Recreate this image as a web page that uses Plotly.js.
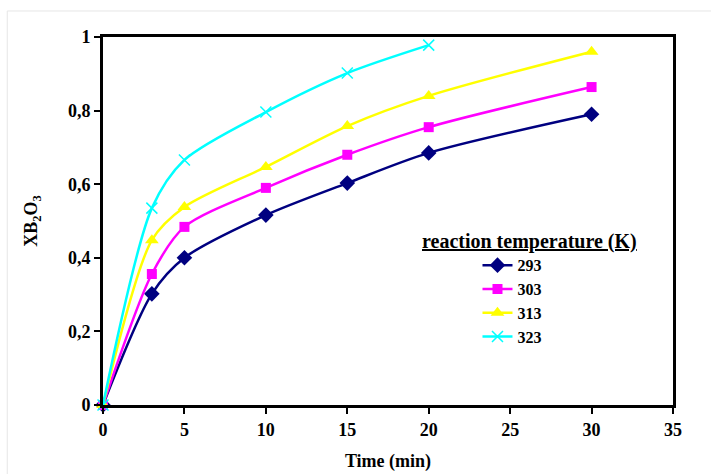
<!DOCTYPE html>
<html><head><meta charset="utf-8">
<script src="https://cdn.plot.ly/plotly-3.0.1.min.js"></script>
<style>body{margin:0;background:#fff}#c{width:711px;height:474px}</style>
</head><body><div id="c"></div>
<script>
const time = [0, 3, 5, 10, 15, 20, 30];
const time323 = [0, 3, 5, 10, 15, 20];
const s293 = [0, 0.302, 0.400, 0.516, 0.603, 0.685, 0.790];
const s303 = [0, 0.356, 0.484, 0.590, 0.680, 0.755, 0.864];
const s313 = [0, 0.448, 0.538, 0.647, 0.758, 0.840, 0.960];
const s323 = [0, 0.535, 0.666, 0.796, 0.902, 0.978];
const names = ['293', '303', '313', '323'];
const xTicks = [0, 5, 10, 15, 20, 25, 30, 35];
const yTicks = [0, 0.2, 0.4, 0.6, 0.8, 1];
const yTickText = ['0', '0,2', '0,4', '0,6', '0,8', '1'];

const fam = 'Liberation Serif';
function tr(x, y, name, color, symbol, msize) {
  return {x: x, y: y, name: name, type: 'scatter', mode: 'lines+markers',
    line: {color: color, width: 2.5, shape: 'spline', smoothing: 0.8},
    marker: {color: color, symbol: symbol, size: msize, line: {color: color, width: symbol === 'x-thin' ? 1.5 : 0}},
    cliponaxis: false};
}
const data = [
  tr(time, s293, names[0], '#000080', 'diamond', 12),
  tr(time, s303, names[1], '#FF00FF', 'square', 10),
  tr(time, s313, names[2], '#FFFF00', 'triangle-up', 12),
  tr(time323, s323, names[3], '#00FFFF', 'x-thin', 11)
];
const layout = {
  width: 711, height: 474,
  margin: {l: 103, r: 38, t: 37, b: 69},
  paper_bgcolor: '#fff', plot_bgcolor: '#fff',
  font: {family: fam, size: 18, color: '#000'},
  showlegend: true,
  legend: {x: 0.657, y: 0.426, xanchor: 'left', yanchor: 'top', bgcolor: 'rgba(0,0,0,0)',
    font: {family: fam, size: 16, color: '#000', weight: 'bold'}, tracegroupgap: 0, itemwidth: 30},
  xaxis: {range: [0, 35], tickvals: xTicks, ticks: 'outside', ticklen: 6, tickwidth: 1.5, tickcolor: '#000',
    showline: true, linecolor: '#000', linewidth: 3, mirror: true, showgrid: false, zeroline: false,
    tickfont: {family: fam, size: 18, weight: 'bold'},
    title: {text: '<b>Time (min)</b>', font: {family: fam, size: 18}, standoff: 16}},
  yaxis: {range: [0, 1], tickvals: yTicks, ticktext: yTickText, ticks: 'outside', ticklen: 6, tickwidth: 1.5, tickcolor: '#000',
    showline: true, linecolor: '#000', linewidth: 3, mirror: true, showgrid: false, zeroline: false,
    tickfont: {family: fam, size: 18, weight: 'bold'},
    title: {text: '<b>XB<sub>2</sub>O<sub>3</sub></b>', font: {family: fam, size: 18}, standoff: 26}},
  annotations: [{xref: 'paper', yref: 'paper', x: 0.749, y: 0.445, xanchor: 'center', yanchor: 'middle',
    text: '<b><u>reaction temperature (K)</u></b>', showarrow: false,
    font: {family: fam, size: 20, color: '#000'}}],
  shapes: [{type: 'rect', xref: 'paper', yref: 'paper', x0: -0.168, x1: 1.2, y0: -0.3, y1: 1.0707,
    line: {color: '#e6e6e6', width: 1}, layer: 'below'}]
};
Plotly.newPlot('c', data, layout, {displayModeBar: false});
</script></body></html>
